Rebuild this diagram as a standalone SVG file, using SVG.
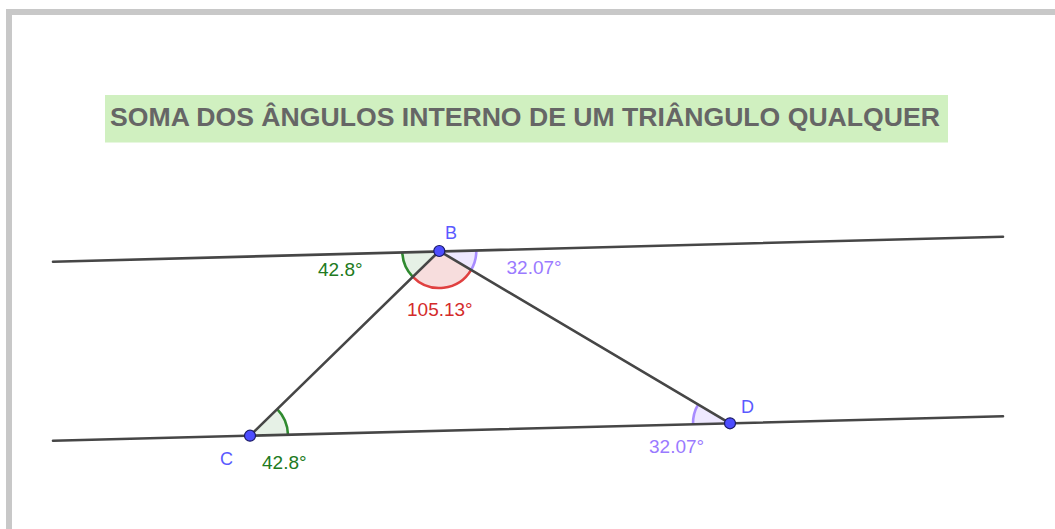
<svg xmlns="http://www.w3.org/2000/svg" width="1055" height="529" viewBox="0 0 1055 529">
  <style>
    .line { stroke: #464646; stroke-width: 2.6; fill: none; stroke-linecap: round; }
    .pt { fill: #4d4dff; stroke: #1a1a66; stroke-width: 1.2; }
    .ptlabel { font-family: "Liberation Sans", Arial, sans-serif; font-size: 18px; fill: #5a5aff; }
    .val { font-family: "Liberation Sans", Arial, sans-serif; font-size: 19px; }
    .green { fill: #e3f0e3; fill-opacity: 0.9; }
    .greenArc { stroke: #2f8a2f; stroke-width: 2.6; fill: none; }
    .red { fill: #f6d9d9; fill-opacity: 0.9; }
    .redArc { stroke: #e04040; stroke-width: 2.6; fill: none; }
    .purple { fill: #ece6ff; fill-opacity: 0.9; }
    .purpleArc { stroke: #a88cff; stroke-width: 2.6; fill: none; }
    .title { font-family: "Liberation Sans", Arial, sans-serif; font-size: 26px; font-weight: bold; fill: #666666; }
  </style>
  <rect x="0" y="0" width="1055" height="529" fill="#ffffff"/>
  <!-- frame -->
  <rect x="6" y="9" width="1049" height="6" fill="#c8c8c8"/>
  <rect x="6" y="9" width="6" height="520" fill="#c8c8c8"/>

  <!-- title -->
  <g id="title">
    <rect x="105" y="95" width="843" height="47.5" fill="#d0f0c0"/>
    <text class="title" x="110" y="125.5" textLength="830" lengthAdjust="spacingAndGlyphs">SOMA DOS ÂNGULOS INTERNO DE UM TRIÂNGULO QUALQUER</text>
  </g>

  <!-- angle sectors -->
  <g id="angles">
    <path class="green" d="M439.3 251 L402.31 251.98 A37 37 0 0 0 412.80 276.83 Z"/>
    <path class="red" d="M439.3 251 L412.80 276.83 A37 37 0 0 0 471.13 269.86 Z"/>
    <path class="purple" d="M439.3 251 L471.13 269.86 A37 37 0 0 0 476.29 250.03 Z"/>
    <path class="green" d="M250 435.7 L287.99 434.72 A38 38 0 0 0 277.21 409.17 Z"/>
    <path class="purple" d="M730 423.3 L698.17 404.44 A37 37 0 0 0 693.01 424.25 Z"/>
    <path class="greenArc" d="M402.31 251.98 A37 37 0 0 0 412.80 276.83"/>
    <path class="redArc" d="M412.80 276.83 A37 37 0 0 0 471.13 269.86"/>
    <path class="purpleArc" d="M471.13 269.86 A37 37 0 0 0 476.29 250.03"/>
    <path class="greenArc" d="M287.99 434.72 A38 38 0 0 0 277.21 409.17"/>
    <path class="purpleArc" d="M698.17 404.44 A37 37 0 0 0 693.01 424.25"/>
  </g>

  <!-- connectors -->
  <g id="connectors">
    <line class="line" x1="53" y1="261.7" x2="1003" y2="236.7"/>
    <line class="line" x1="53" y1="440.8" x2="1003" y2="416.3"/>
    <line class="line" x1="439.3" y1="251" x2="250" y2="435.7"/>
    <line class="line" x1="439.3" y1="251" x2="730" y2="423.3"/>
  </g>

  <!-- angle values -->
  <g id="values">
    <text class="val" x="318" y="276" fill="#217a21">42.8°</text>
    <text class="val" x="506.5" y="274.3" fill="#9a7aff">32.07°</text>
    <text class="val" x="407" y="316" fill="#d42b2b">105.13°</text>
    <text class="val" x="262" y="469" fill="#217a21">42.8°</text>
    <text class="val" x="649" y="453.3" fill="#9a7aff">32.07°</text>
  </g>

  <g id="B">
    <circle class="pt" cx="439.3" cy="251" r="5.5"/>
    <text class="ptlabel" x="445" y="239">B</text>
  </g>
  <g id="C">
    <circle class="pt" cx="250" cy="435.7" r="5.5"/>
    <text class="ptlabel" x="220" y="465">C</text>
  </g>
  <g id="D">
    <circle class="pt" cx="730" cy="423.3" r="5.5"/>
    <text class="ptlabel" x="741" y="413.3">D</text>
  </g>
</svg>
